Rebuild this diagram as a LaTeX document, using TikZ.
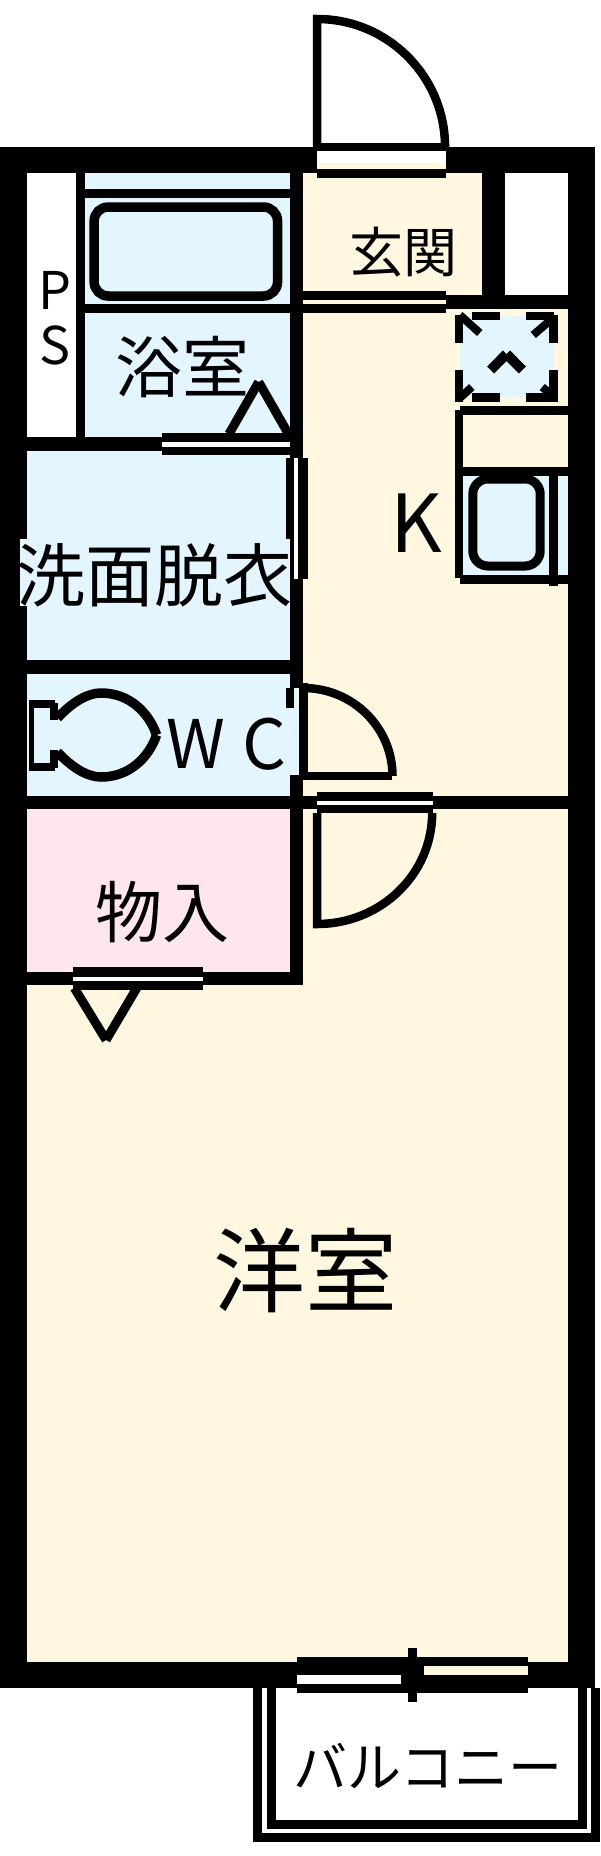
\documentclass[tikz,border=0pt]{standalone}
\usepackage{fontspec}
\setmainfont{Noto Sans CJK JP}
\definecolor{bluef}{HTML}{E3F5FF}
\definecolor{creamf}{HTML}{FFF7E0}
\definecolor{pinkf}{HTML}{FFE6EE}
\newcommand{\bk}[4]{\fill[black] (#1,#2) rectangle (#3,#4);}
\newcommand{\fl}[5]{\fill[#1] (#2,#3) rectangle (#4,#5);}
\newcommand{\fs}[1]{\fontsize{#1}{#1}\selectfont}
\tikzset{lbl/.style={inner sep=0pt,anchor=center,text=black},
 ln/.style={draw=black,line width=8.5pt,line join=miter,fill=none}}
\begin{document}
\begin{tikzpicture}[x=0.9912pt,y=-1pt]
\useasboundingbox (0,0) rectangle (605.33,1856);
% room fills
\fl{white}{27}{173}{77}{440}
\fl{bluef}{86}{173}{293}{440}
\fl{creamf}{306}{173}{486}{300}
\fl{white}{509}{173}{573}{295}
\fl{creamf}{300}{300}{573}{800}
\fl{bluef}{27}{448}{293}{662}
\fl{bluef}{27}{672}{300}{798}
\fl{pinkf}{27}{805}{293}{975}
\fl{creamf}{300}{805}{573}{1665}
\fl{creamf}{27}{985}{300}{1665}
% outer walls
\bk{0}{147}{600.3}{173}
\bk{0}{147}{27}{1688}
\bk{573}{147}{600.3}{1688}
\bk{0}{1662}{600.3}{1688}
% inner walls
\bk{77}{173}{86}{440}
\bk{293}{173}{306}{683}
\bk{86}{189}{293}{198}
\bk{86}{304}{293}{313}
\bk{486}{173}{509}{300}
\bk{450}{295}{573}{309}
\bk{27}{437}{170}{451}
\bk{27}{660}{293}{674}
\bk{293}{660}{306}{688}
\bk{293}{775}{306}{985}
\bk{27}{796}{573}{809}
\bk{27}{972}{306}{985}
% entrance door sill
\fl{white}{320}{147}{450}{163}
\fl{creamf}{320}{163}{450}{173}
\bk{320}{143}{450}{151}
\bk{320}{169}{450}{178}
\draw[ln] (320,147) -- (320,19) arc[start angle=-90,end angle=0,x radius=129,y radius=128];
% genkan sliding door
\fl{creamf}{306}{295}{450}{309}
\bk{306}{291}{450}{300}
\bk{306}{304}{450}{313}
% bathtub
\draw[ln,line width=9.5pt,rounded corners=14pt] (95,207) rectangle (280,296);
% bath door
\fl{white}{163}{437}{293}{451}
\bk{163}{433}{293}{442}
\bk{163}{447}{293}{455}
\draw[line width=9pt] (231,434) -- (261,382);
\draw[line width=9pt] (291,434) -- (261,382);
% exhaust fan
\fl{bluef}{464}{316}{559}{397}
\bk{476}{312}{504}{320}\bk{531}{312}{559}{320}
\bk{476}{393}{504}{402}\bk{531}{393}{559}{402}
\bk{459}{315}{467}{343}\bk{459}{370}{467}{402}
\bk{554}{315}{563}{343}\bk{554}{370}{563}{402}
\draw[line width=8pt] (464,315) -- (484,333);
\draw[line width=8pt] (559,317) -- (538,335);
\draw[line width=8pt] (476,387) -- (464,398);
\draw[line width=8pt] (547,387) -- (559,397);
\draw[line width=10pt] (495,370) -- (511,354);
\draw[line width=10pt] (527,370) -- (511,354);
% kitchen counter
\bk{464}{406}{573}{415}
\bk{459}{410}{467}{578}
\bk{467}{467}{573}{476}
\fl{bluef}{467}{476}{573}{575}
\bk{464}{575}{573}{584}
\bk{554}{476}{563}{586}
\draw[ln,line width=9pt,rounded corners=15pt] (477,479) rectangle (545,566);
% washroom door
\fl{white}{297}{458}{301}{579}
\bk{289}{458}{297}{539}
\bk{301}{458}{311}{579}
% WC door
\fl{bluef}{293}{708}{302}{775}
\bk{289}{688}{297}{708}
\bk{302}{683}{311}{776}
\draw[ln] (395,776) -- (306,776);
\draw[ln] (306,688) arc[start angle=-90,end angle=0,x radius=90,y radius=88];
% room door
\fl{white}{320}{801}{437}{805}
\bk{320}{792}{437}{801}
\bk{320}{805}{437}{813}
\draw[ln] (320,813) -- (320,924) arc[start angle=90,end angle=0,x radius=116,y radius=111];
% toilet
\bk{29}{700}{55}{708}
\bk{29}{700}{34}{771}
\bk{29}{763}{55}{771}
\bk{50}{703}{59}{720}
\bk{50}{750}{59}{768}
\draw[line width=9.5pt] (58,718) .. controls (75,700) and (90,693) .. (102,693) .. controls (130,693) and (150,712) .. (158,735);
\draw[line width=9.5pt] (58,752) .. controls (75,770) and (90,777) .. (102,777) .. controls (130,777) and (150,758) .. (158,735);
% storage door
\fl{white}{74}{977}{205}{981}
\bk{74}{967}{205}{977}
\bk{74}{981}{205}{990}
\draw[line width=9pt] (75,988) -- (107,1040);
\draw[line width=9pt] (138,988) -- (107,1040);
% balcony and its window, in true pixels
\begin{scope}[x=1pt]
\draw[line width=9pt] (257.5,1688) -- (257.5,1837.5) -- (595.5,1837.5) -- (595.5,1688);
\draw[line width=9pt] (271,1688) -- (271,1824) -- (582.5,1824) -- (582.5,1688);
\fill[white] (591,1670) rectangle (600,1683);
\fill[black] (568,1660) rectangle (595,1688);
\bk{297}{1657}{528}{1693}
\fl{white}{297}{1675}{401}{1684}
\fl{creamf}{424}{1666}{528}{1675}
\bk{408}{1648}{417}{1702}
\end{scope}
% labels
\fl{bluef}{20}{539}{293}{606}
\node[lbl] (ps1) at (55,290) {\fs{52}P};
\node[lbl] (ps2) at (55,345) {\fs{52}S};
\node[lbl] (yoku) at (184,367) {\fs{67}浴室};
\node[lbl] (gen) at (407,252) {\fs{54}玄関};
\node[lbl] (k) at (420,523) {\fs{80}K};
\node[lbl] (sen) at (156,575) {\fs{69}洗面脱衣};
\node[lbl] (w) at (198,744) {\fs{67}W};
\node[lbl] (c) at (267,744) {\fs{69}C};
\node[lbl] (mono) at (164,912) {\fs{67}物入};
\node[lbl] (you) at (308,1270) {\fs{92}洋室};
\node[lbl] (bal) at (432,1766) {\fs{54}バルコニー};
\end{tikzpicture}
\end{document}
